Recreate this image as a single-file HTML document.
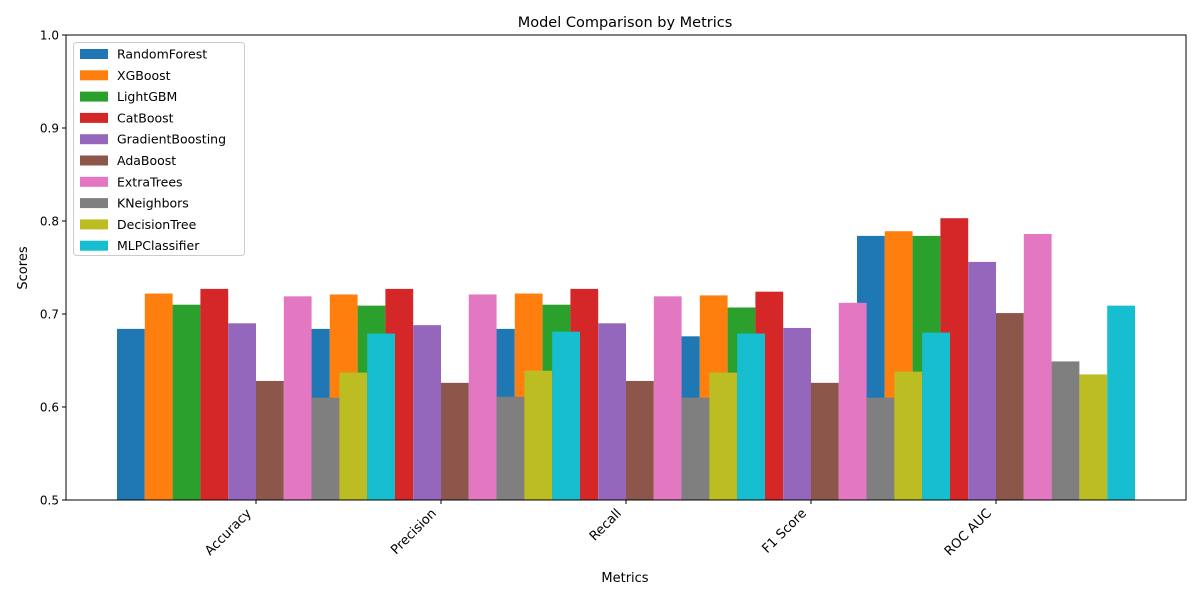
<!DOCTYPE html>
<html><head><meta charset="utf-8"><style>
body{margin:0;background:#fff}
svg text{font-family:"DejaVu Sans","Liberation Sans",sans-serif;fill:#000}
</style></head><body>
<svg id="chart" width="1200" height="600" viewBox="0 0 1200 600">
<rect width="1200" height="600" fill="#fff"/>
<text x="625" y="27" font-size="14.5" text-anchor="middle">Model Comparison by Metrics</text>
<g id="bars"></g>
<g id="axes"></g>
<text x="625" y="582" font-size="13" text-anchor="middle">Metrics</text>
<text transform="translate(27,268) rotate(-90)" font-size="13" text-anchor="middle">Scores</text>
<g id="legend"></g>
</svg>
<script>
const categories = ["Accuracy","Precision","Recall","F1 Score","ROC AUC"];
const models = ["RandomForest","XGBoost","LightGBM","CatBoost","GradientBoosting","AdaBoost","ExtraTrees","KNeighbors","DecisionTree","MLPClassifier"];
const colors = ["#1f77b4","#ff7f0e","#2ca02c","#d62728","#9467bd","#8c564b","#e377c2","#7f7f7f","#bcbd22","#17becf"];
const RandomForest = [0.684,0.684,0.684,0.676,0.784];
const XGBoost = [0.722,0.721,0.722,0.720,0.789];
const LightGBM = [0.710,0.709,0.710,0.707,0.784];
const CatBoost = [0.727,0.727,0.727,0.724,0.803];
const GradientBoosting = [0.690,0.688,0.690,0.685,0.756];
const AdaBoost = [0.628,0.626,0.628,0.626,0.701];
const ExtraTrees = [0.719,0.721,0.719,0.712,0.786];
const KNeighbors = [0.610,0.611,0.610,0.610,0.649];
const DecisionTree = [0.637,0.639,0.637,0.638,0.635];
const MLPClassifier = [0.679,0.681,0.679,0.680,0.709];
const series = [RandomForest,XGBoost,LightGBM,CatBoost,GradientBoosting,AdaBoost,ExtraTrees,KNeighbors,DecisionTree,MLPClassifier];
const yTicks = ["0.5","0.6","0.7","0.8","0.9","1.0"];

const NS="http://www.w3.org/2000/svg";
const L=66,R=1186,T=35,B=500;
const yMin=0.5,yMax=1.0;
const y=v=>B-(v-yMin)/(yMax-yMin)*(B-T);
const groupStep=185, x0=256, bw=27.8;
const x=i=>x0+i*groupStep;
function mk(tag,attrs){const e=document.createElementNS(NS,tag);for(const k in attrs)e.setAttribute(k,attrs[k]);return e;}
const gb=document.getElementById('bars');
series.forEach((vals,s)=>{
  vals.forEach((v,i)=>{
    const cx=x(i)+(s-4.5)*bw;
    const r=mk('rect',{x:cx-bw/2,y:y(v),width:bw,height:B-y(v),fill:colors[s]});
    
    
    gb.appendChild(r);
  });
});
const ga=document.getElementById('axes');
const frame=mk('rect',{x:L,y:T,width:R-L,height:B-T,fill:'none',stroke:'#000','stroke-width':1});


ga.appendChild(frame);
yTicks.forEach(t=>{
  const yy=y(parseFloat(t));
  ga.appendChild(mk('line',{x1:L-4,x2:L,y1:yy,y2:yy,stroke:'#000'}));
  const tx=mk('text',{x:L-7,y:yy+4.5,'font-size':'12','text-anchor':'end'});
  tx.textContent=t;
  
  
  ga.appendChild(tx);
});
categories.forEach((c,i)=>{
  const xx=x(i);
  ga.appendChild(mk('line',{x1:xx,x2:xx,y1:B,y2:B+4,stroke:'#000'}));
  const tx=mk('text',{transform:`translate(${xx-4},${B+14}) rotate(-45)`,'font-size':'13','text-anchor':'end'});
  tx.textContent=c;
  
  
  ga.appendChild(tx);
});
const gl=document.getElementById('legend');
const box=mk('rect',{x:73.5,y:42.5,width:171,height:213,rx:3,fill:'#fff','fill-opacity':0.8,stroke:'#ccc'});


gl.appendChild(box);
models.forEach((m,s)=>{
  const yy=54+s*21.3;
  const g=mk('g',{});
  
  
  g.appendChild(mk('rect',{x:80,y:yy-5,width:28,height:10,fill:colors[s]}));
  const tx=mk('text',{x:117,y:yy+4.5,'font-size':'12.5'});
  tx.textContent=m;
  g.appendChild(tx);
  gl.appendChild(g);
});
</script>
</body></html>
